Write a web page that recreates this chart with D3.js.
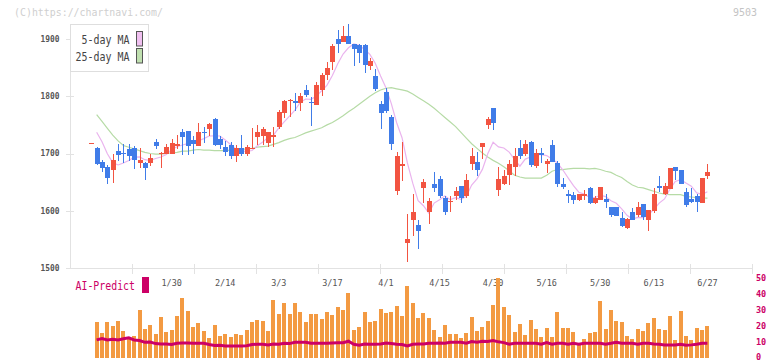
<!DOCTYPE html>
<html><head><meta charset="utf-8">
<script src="https://cdn.jsdelivr.net/npm/d3@7/dist/d3.min.js"></script>
<style>body{margin:0;background:#fff}svg{display:block}</style>
</head><body><svg id="c" width="772" height="361"></svg>
<script>
// ---- data ----
const openP  = [1718,1710,1685,1676,1672,1704,1701,1707,1710,1684,1683,1684,1720,1699,1699,1700,1713,1737,1739,1723,1713,1737,1743,1760,1725,1712,1714,1696,1709,1700,1707,1729,1731,1718,1728,1747,1770,1791,1792,1789,1811,1790,1784,1811,1837,1859,1900,1894,1905,1892,1890,1890,1853,1835,1787,1807,1764,1635,1679,1543,1583,1575,1639,1598,1646,1656,1622,1615,1626,1643,1626,1681,1685,1712,1749,1779,1637,1647,1662,1677,1710,1699,1720,1679,1701,1681,1715,1684,1647,1629,1628,1618,1626,1640,1614,1619,1621,1607,1607,1588,1569,1598,1593,1612,1584,1600,1643,1630,1638,1676,1671,1632,1621,1625,1614,1660];
const highP  = [1718,1712,1689,1680,1699,1717,1717,1717,1713,1709,1686,1699,1725,1703,1717,1726,1732,1742,1739,1731,1753,1746,1754,1762,1731,1722,1720,1714,1732,1714,1744,1749,1746,1738,1746,1776,1794,1795,1805,1805,1819,1799,1825,1841,1859,1891,1916,1923,1926,1892,1891,1891,1866,1847,1792,1815,1768,1702,1720,1594,1629,1584,1656,1622,1668,1661,1626,1625,1642,1643,1664,1709,1702,1718,1764,1779,1677,1671,1689,1710,1724,1724,1722,1707,1710,1690,1724,1687,1658,1637,1633,1630,1636,1641,1626,1642,1629,1607,1607,1598,1587,1605,1615,1612,1601,1639,1661,1648,1674,1676,1672,1639,1639,1629,1657,1682];
const lowP   = [1718,1680,1667,1647,1649,1687,1684,1687,1673,1674,1653,1679,1708,1674,1699,1699,1707,1698,1698,1700,1713,1719,1731,1713,1708,1695,1690,1686,1695,1696,1707,1715,1715,1712,1711,1743,1762,1764,1775,1775,1798,1748,1784,1800,1828,1846,1875,1894,1891,1852,1858,1841,1845,1810,1743,1770,1706,1628,1652,1511,1556,1533,1613,1576,1633,1623,1593,1598,1618,1614,1622,1672,1661,1690,1743,1741,1625,1645,1645,1660,1691,1696,1677,1674,1683,1666,1686,1642,1638,1614,1612,1617,1618,1611,1612,1619,1605,1589,1591,1572,1568,1583,1589,1584,1565,1596,1633,1628,1638,1654,1646,1607,1613,1597,1614,1656];
const closeP = [1718,1682,1674,1658,1688,1698,1699,1696,1688,1689,1674,1692,1713,1701,1711,1718,1716,1728,1713,1717,1737,1735,1751,1715,1715,1702,1696,1709,1700,1711,1710,1738,1742,1738,1732,1773,1791,1793,1789,1800,1803,1788,1820,1837,1849,1887,1891,1905,1891,1883,1875,1855,1862,1813,1771,1774,1716,1695,1682,1551,1597,1564,1650,1617,1639,1626,1598,1617,1635,1623,1654,1695,1671,1718,1760,1754,1655,1661,1682,1696,1695,1717,1680,1701,1697,1687,1686,1646,1642,1626,1619,1629,1629,1614,1623,1642,1616,1593,1591,1574,1586,1584,1607,1589,1601,1630,1640,1643,1674,1669,1646,1610,1616,1615,1657,1668];
const prevCloses = [1756,1764,1765];
const ma25 = [null,1768,1756,1744,1732,1722,1714,1711,1708,1705,1702,1700,1699,1699,1700,1701,1702,1704,1704,1706,1707,1706,1706,1705,1705,1705,1706,1706,1707,1708,1709,1711,1712,1713,1716,1719,1723,1726,1728,1732,1736,1739,1742,1745,1750,1754,1760,1766,1773,1779,1786,1793,1800,1806,1811,1814,1815,1813,1811,1809,1804,1798,1792,1786,1779,1771,1763,1755,1747,1737,1727,1717,1709,1701,1694,1688,1683,1677,1670,1662,1659,1657,1657,1657,1657,1662,1669,1672,1672,1673,1674,1674,1674,1673,1674,1672,1669,1667,1662,1658,1651,1645,1641,1640,1637,1634,1631,1629,1628,1628,1628,1625,1624,1623,1622,1622];
const volume = [null,22.2,15.7,22.2,20.1,23.3,16.6,12.4,13.8,30.2,18.2,20.8,15.1,25.8,16.4,17.2,26.4,37.7,29.6,19.5,21.8,17.0,12.4,20.8,13.8,15.1,13.2,14.7,14.5,17.2,22.6,23.9,23.3,17.0,36.1,27.3,34.2,27.3,34.6,28.5,22.2,27.3,27.3,24.1,28.9,27.0,31.7,30.2,40.9,17.6,19.5,28.9,22.4,22.9,30.8,28.1,28.5,32.3,26.4,45.3,34.2,25.2,28.3,25.2,17.6,13.2,20.8,15.1,15.1,12.6,15.7,25.8,17.0,19.5,23.3,33.3,49.7,32.1,27.0,16.4,21.4,14.5,23.9,18.2,13.2,18.9,13.2,28.9,18.9,18.9,16.4,9.0,11.9,15.7,16.4,35.8,18.2,30.2,23.3,22.6,13.8,11.9,18.2,17.0,22.0,25.2,18.2,17.6,26.4,11.3,29.6,13.8,11.3,18.9,17.6,20.1];
const aiPredict = [null,11.3,12.2,11.3,11.7,11.3,12.0,12.6,11.3,10.9,9.8,10.0,9.0,8.8,8.8,8.4,9.2,9.4,9.4,9.2,9.2,9.2,8.4,7.8,8.0,7.5,7.5,7.5,7.5,7.7,8.4,8.6,8.6,8.2,8.8,8.6,9.2,9.0,9.8,9.9,9.9,9.2,9.2,9.2,9.2,9.4,9.6,9.6,10.5,8.6,8.0,8.8,8.6,8.6,8.8,9.4,9.0,8.6,8.4,7.5,8.6,8.8,8.8,9.2,9.2,9.4,9.2,9.9,9.9,9.9,9.2,10.3,9.9,10.5,10.3,10.9,10.1,9.6,8.6,9.2,9.2,9.2,9.2,9.2,8.6,9.6,8.6,9.2,9.2,8.6,9.2,8.6,9.2,9.2,9.2,9.2,8.6,9.2,9.9,9.2,9.2,9.2,8.6,9.2,9.2,8.8,8.6,8.2,8.2,8.2,8.6,8.0,8.2,8.6,9.2,9.2];
const tickLabels = ["1/30","2/14","3/3","3/17","4/1","4/15","4/30","5/16","5/30","6/13","6/27"];
const tickIndex  = [15,25,35,45,55,65,75,85,95,105,115];
const yTicks = [1500,1600,1700,1800,1900];
const rightTicks = [0,10,20,30,40,50];

// ---- derived: 5-day moving average of closes ----
const allC = prevCloses.concat(closeP);
const ma5 = closeP.map((c,i)=> i<1 ? null : d3.mean(allC.slice(i+3-4, i+3+1)));

// ---- drawing ----
const svg = d3.select('#c');
const N = closeP.length;
const x = d3.scaleLinear().domain([0, N-1]).range([91.3, 707.4]);
const y = d3.scaleLinear().domain([1500,1900]).range([268, 39]);
const v = d3.scaleLinear().domain([0,50]).range([358, 278]);
const mono = "'DejaVu Sans Mono', monospace";
const axisCol = '#e2e2e2';

// header texts
svg.append('text').attr('x',14).attr('y',16).attr('font-family',mono).attr('font-size',11)
  .attr('fill','#cfcfcf').attr('textLength',149).attr('lengthAdjust','spacingAndGlyphs').text('(C)https://chartnavi.com/');
svg.append('text').attr('x',733).attr('y',16).attr('font-family',mono).attr('font-size',11)
  .attr('fill','#c4c4c4').attr('textLength',24).attr('lengthAdjust','spacingAndGlyphs').text('9503');

// axes
const g = svg.append('g').attr('shape-rendering','crispEdges');
g.append('line').attr('x1',70.5).attr('x2',70.5).attr('y1',24).attr('y2',268.5).attr('stroke',axisCol);
g.append('line').attr('x1',70.5).attr('x2',753).attr('y1',268.5).attr('y2',268.5).attr('stroke',axisCol).attr('stroke-width',1.5);
d3.range(1,12).forEach(k=>{
  const xx = 70.5 + k*62;
  g.append('line').attr('x1',xx).attr('x2',xx).attr('y1',264).attr('y2',274).attr('stroke',axisCol).attr('stroke-width',1.5);
});
yTicks.forEach(t=>{
  g.append('line').attr('x1',65.5).attr('x2',73.5).attr('y1',Math.round(y(t))+0.5).attr('y2',Math.round(y(t))+0.5).attr('stroke',axisCol);
  svg.append('text').attr('x',59.5).attr('y',y(t)+2.8).attr('text-anchor','end').attr('font-family',mono)
    .attr('font-size',8).attr('font-weight','bold').attr('fill','#555').attr('textLength',19).attr('lengthAdjust','spacingAndGlyphs').text(t);
});
tickIndex.forEach((ti,k)=>{
  svg.append('text').attr('x',x(ti)).attr('y',285.5).attr('text-anchor','middle').attr('font-family',mono)
    .attr('font-size',8.5).attr('fill','#555').text(tickLabels[k]);
});

// moving averages
const line = d3.line().defined(d=>d[1]!=null).x(d=>x(d[0])).y(d=>y(d[1]));
svg.append('path').attr('d', line(ma25.map((m,i)=>[i,m]))).attr('fill','none').attr('stroke','#b6dba6').attr('stroke-width',1.2);
svg.append('path').attr('d', line(ma5.map((m,i)=>[i,m]))).attr('fill','none').attr('stroke','#eab4ee').attr('stroke-width',1.2);

// candles
const cg = svg.append('g').attr('shape-rendering','crispEdges');
closeP.forEach((c,i)=>{
  const o = openP[i], up = c >= o;
  const col = up ? '#f25441' : '#407ce8';
  const cx = Math.round(x(i));
  const yh = Math.round(y(highP[i])), yl = Math.round(y(lowP[i]));
  if (yl > yh) cg.append('rect').attr('x',cx).attr('y',yh).attr('width',1).attr('height',yl-yh).attr('fill',col);
  const yt = Math.round(y(Math.max(o,c))), yb = Math.round(y(Math.min(o,c)));
  cg.append('rect').attr('x',cx-2).attr('y',yt).attr('width',5).attr('height',Math.max(1,yb-yt)).attr('fill',col);
});

// legend
svg.append('rect').attr('x',70.5).attr('y',24.5).attr('width',78).attr('height',47).attr('fill','#fff').attr('stroke','#dedede');
[['5-day MA',44,48,'#f0c0f0',31.5],['25-day MA',61,54,'#c0e0b0',48.5]].forEach(([t,yy,tl,fc,ry])=>{
  svg.append('text').attr('x',129.5).attr('y',yy).attr('text-anchor','end').attr('font-family',mono).attr('font-size',12)
    .attr('fill','#444').attr('textLength',tl).attr('lengthAdjust','spacingAndGlyphs').text(t);
  svg.append('rect').attr('x',136.5).attr('y',ry).attr('width',6).attr('height',14.5).attr('fill',fc).attr('stroke','#555');
});

// lower panel
svg.append('text').attr('x',75.5).attr('y',290).attr('font-family',mono).attr('font-size',11.5).attr('fill','#cc0066')
  .attr('textLength',59.5).attr('lengthAdjust','spacingAndGlyphs').text('AI-Predict');
svg.append('rect').attr('x',142).attr('y',277).attr('width',7).attr('height',16).attr('fill','#cc0066');
const vg = svg.append('g').attr('shape-rendering','crispEdges');
volume.forEach((d,i)=>{
  if (d==null) return;
  const cx = Math.round(x(i));
  vg.append('rect').attr('x',cx-2).attr('y',v(d)).attr('width',4).attr('height',v(0)-v(d)).attr('fill','#f39a42');
});
const aline = d3.line().defined(d=>d[1]!=null).x(d=>x(d[0])).y(d=>v(d[1]));
svg.append('path').attr('d', aline(aiPredict.map((m,i)=>[i,m]))).attr('fill','none').attr('stroke','#cc0066').attr('stroke-width',3);
rightTicks.forEach(t=>{
  svg.append('text').attr('x',756).attr('y',Math.min(v(t)+3, 359.5)).attr('font-family',mono).attr('font-size',8.5).attr('font-weight','bold')
    .attr('fill','#cc0066').text(t);
});
</script></body></html>
